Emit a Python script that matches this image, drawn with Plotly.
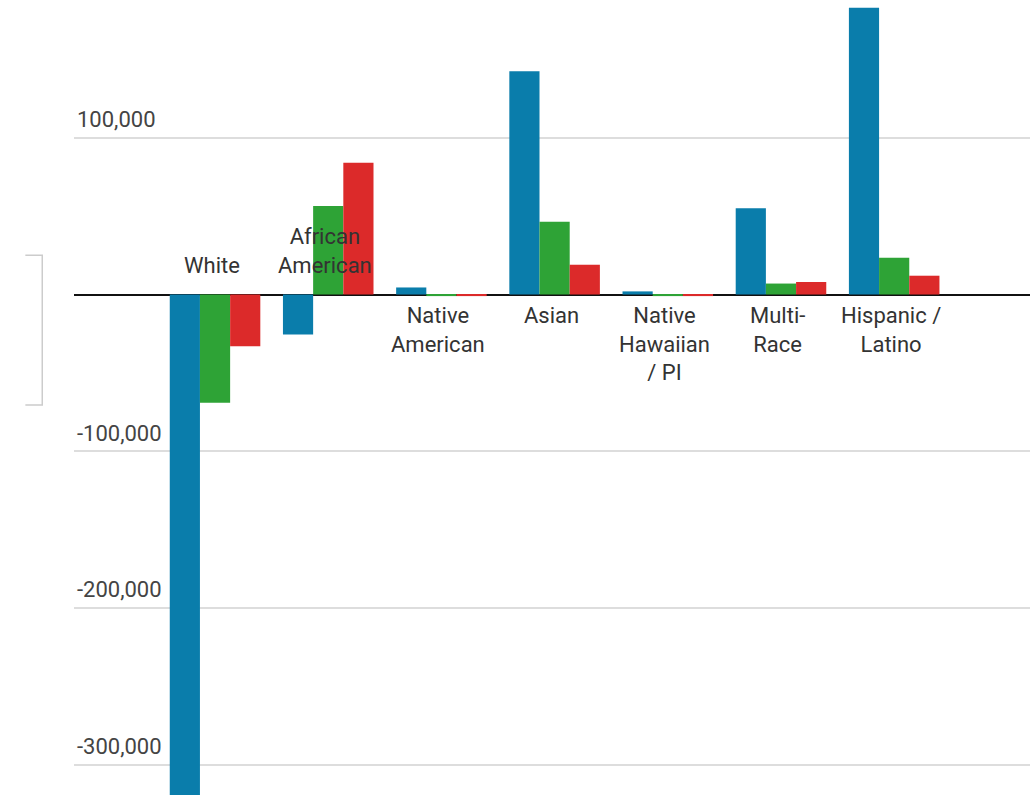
import plotly.graph_objects as go

# Population change by race / ethnicity, three periods
categories = ["White", "African American", "Native American", "Asian",
              "Native Hawaiian / PI", "Multi-Race", "Hispanic / Latino"]
category_labels = ["White", "African<br>American", "Native<br>American", "Asian",
                   "Native<br>Hawaiian<br>/ PI", "Multi-<br>Race", "Hispanic /<br>Latino"]
period_1 = [-330000, -25500, 4500, 142500, 2000, 55000, 183000]
period_2 = [-69000, 56500, -1000, 46500, -1000, 7000, 23500]
period_3 = [-33000, 84000, -1000, 19000, -1000, 8000, 12000]

tick_vals = [100000, -100000, -200000, -300000]
tick_text = ["100,000", "-100,000", "-200,000", "-300,000"]

colors = ["#0a7dab", "#2ea336", "#dc2a2a"]
names = ["Period 1", "Period 2", "Period 3"]

fig = go.Figure()
for name, vals, col in zip(names, [period_1, period_2, period_3], colors):
    fig.add_trace(go.Bar(x=categories, y=vals, name=name, marker_color=col,
                         marker_line_width=0))

# Category labels sit beside the zero line: above it where the group is
# mostly negative, below it otherwise
above = {"White", "African American"}
label_font = dict(family="Roboto", size=22, color="#333333")
annotations = []
for cat, lab in zip(categories, category_labels):
    if cat in above:
        annotations.append(dict(x=cat, y=0, xref="x", yref="y", text=lab,
                                showarrow=False, yanchor="bottom", yshift=15,
                                xshift=-3, font=label_font))
    else:
        annotations.append(dict(x=cat, y=0, xref="x", yref="y", text=lab,
                                showarrow=False, yanchor="top", yshift=-6,
                                xshift=-3, font=label_font))

fig.update_layout(
    width=1035, height=795,
    margin=dict(l=74, r=5, t=0, b=0),
    paper_bgcolor="white", plot_bgcolor="white",
    barmode="group", bargap=0.2, bargroupgap=0,
    showlegend=False,
    annotations=annotations,
    font=dict(family="Roboto", size=22, color="#444444"),
    xaxis=dict(range=[-1.246, 7.2], showticklabels=False, showgrid=False,
               zeroline=False, showline=False, ticks=""),
    yaxis=dict(range=[-319300, 187900], tickvals=tick_vals, ticktext=tick_text,
               ticklabelposition="inside top", ticklabelshift=-3,
               showgrid=True, gridcolor="#dddddd", gridwidth=2,
               zeroline=True, zerolinecolor="#111111", zerolinewidth=1.5,
               showline=False, ticks="",
               tickfont=dict(family="Roboto", size=22, color="#444444")),
    shapes=[dict(type="path", xref="paper", yref="paper",
                 path="M -0.0509,0.6788 L -0.0332,0.6788 L -0.0332,0.4906 L -0.0509,0.4906",
                 line=dict(color="#cccccc", width=1.5))],
)

fig.write_html("out.html")
